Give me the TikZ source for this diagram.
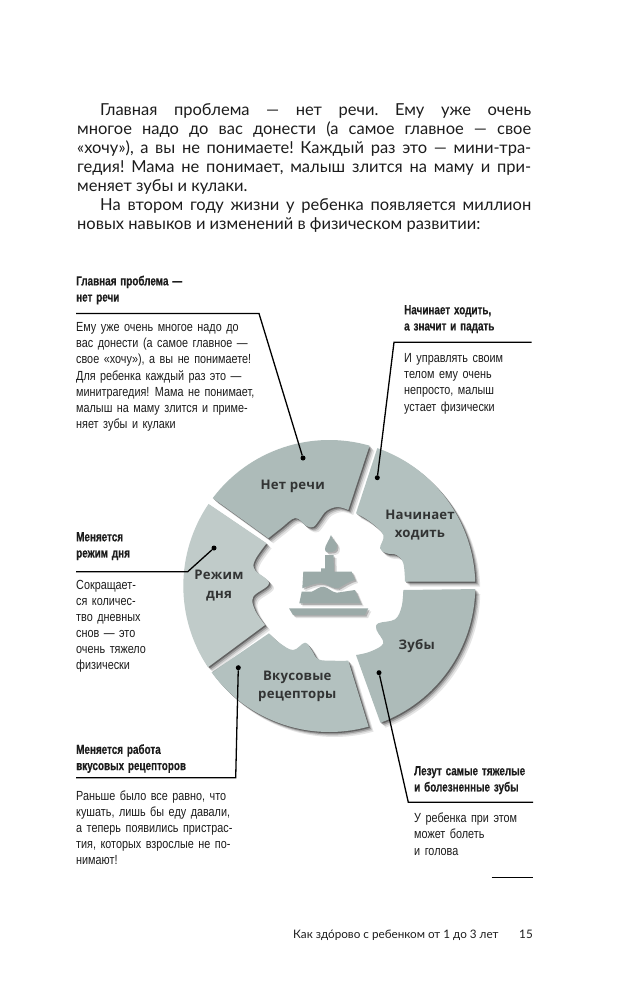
\documentclass[tikz,border=0pt]{standalone}
\usepackage{fontspec}
\setmainfont{Lato}
\newfontfamily\capheadfont[FakeStretch=0.75,WordSpace=1.4,FakeBold=0.25]{Liberation Sans}
\newfontfamily\capfont[FakeStretch=0.82,WordSpace=1.5]{Liberation Sans}
\newfontfamily\segfont[LetterSpace=1.5]{Open Sans}
\definecolor{segdark}{HTML}{ADBBB9}
\definecolor{segmid}{HTML}{B3C1BF}
\definecolor{seglight}{HTML}{C0CBC9}
\definecolor{cakecol}{HTML}{9BAAA8}
\definecolor{inktext}{HTML}{1C1C1C}
\tikzset{
  capt/.style={anchor=north west,inner sep=0pt,align=left,text=inktext,execute at begin node=\strut},
  capthead/.style={capt,font=\capheadfont\bfseries\fontsize{13.2}{16.2}\selectfont},
  captbody/.style={capt,font=\capfont\fontsize{13.2}{16.1}\selectfont},
  seglabel/.style={inner sep=0pt,align=center,text=inktext!85!segdark,font=\segfont\bfseries\fontsize{13.2}{18.3}\selectfont},
  leader/.style={draw=black,line width=1.3pt},
  leaddot/.style={circle,fill=black,inner sep=0pt,minimum size=5pt},
  softshadow/.style={
    preaction={fill=black,opacity=.10,transform canvas={xshift=5pt,yshift=-5pt}},
    preaction={fill=black,opacity=.14,transform canvas={xshift=3.6pt,yshift=-3.6pt}},
    preaction={fill=black,opacity=.22,transform canvas={xshift=2.4pt,yshift=-2.4pt}},
    preaction={fill=black,opacity=.35,transform canvas={xshift=1.2pt,yshift=-1.2pt}}},
  cakeshadow/.style={
    preaction={fill=black,opacity=.12,transform canvas={xshift=3pt,yshift=-3pt}},
    preaction={fill=black,opacity=.22,transform canvas={xshift=1.5pt,yshift=-1.5pt}}},
}
\begin{document}
\begin{tikzpicture}[x=1pt,y=-1pt]
  \useasboundingbox (0,0) rectangle (644,1000);
  \fill[white] (0,0) rectangle (644,1000);

  \node[anchor=north west,inner sep=0pt,text width=454pt,align=justify,text=inktext,
    font=\fontsize{16.5}{19}\selectfont\frenchspacing] (intro) at (77,102) {\strut\hspace*{23pt}Главная проблема — нет речи. Ему уже очень\linebreak
    многое надо до вас донести (а самое главное — свое\linebreak
    «хочу»), а вы не понимаете! Каждый раз это — мини-тра-\linebreak
    гедия! Мама не понимает, малыш злится на маму и при-\linebreak
    меняет зубы и кулаки.\\
    \hspace*{23pt}На втором году жизни у ребенка появляется миллион\linebreak
    новых навыков и изменений в физическом развитии:};

  \begin{scope}[shift={(329.3,586)}]
    \path[softshadow,fill=segdark] (217:146) arc[start angle=217,end angle=286,radius=146]
      -- plot[smooth,tension=.6] coordinates {(19,-76) (8,-79) (-3,-75) (-10,-66) (-16,-59) (-23,-60) (-34,-68) (-48,-58) (-61,-47.7)} -- cycle;
    \path[softshadow,fill=segmid] (289.2:146) arc[start angle=289.2,end angle=358.3,radius=146]
      -- plot[smooth,tension=.6] coordinates {(75.7,-4.3) (74,-22.7) (67.3,-31) (57.3,-32.7) (50.7,-37.7) (54,-51) (40.7,-64.3) (26.7,-72.7)} -- cycle;
    \path[softshadow,fill=segdark] (1.2:146) arc[start angle=1.2,end angle=69.5,radius=146]
      -- plot[smooth,tension=.6] coordinates {(26.7,69) (40.7,65.7) (54,57.3) (47.3,44) (49,37.3) (65.7,33.3) (72.3,20.7) (74,4)} -- cycle;
    \path[softshadow,fill=segmid] (143.7:146) arc[start angle=143.7,end angle=74.4,radius=146]
      -- plot[smooth,tension=.6] coordinates {(19,74.7) (4,74.7) (-11,73.3) (-17.7,64) (-24.3,56.7) (-36,64) (-49.3,57.3) (-60.3,47.3)} -- cycle;
    \path[softshadow,fill=seglight] (214.2:146) arc[start angle=214.2,end angle=146.2,radius=146]
      -- plot[smooth,tension=.6] coordinates {(-64.3,39) (-74.3,24) (-76,10.7) (-60.3,-2.7) (-74.3,-16) (-74.3,-26) (-62.7,-42.7)} -- cycle;
  \end{scope}

  \path[cakeshadow,fill=cakecol] (331,535) .. controls (329,541) and (325,545) .. (325,549)
    .. controls (325,553) and (328,552) .. (330,552) .. controls (334,552) and (337,551) .. (337,546)
    .. controls (337,542) and (332,540) .. (331,535) -- cycle;
  \path[cakeshadow,fill=cakecol] (325,555) -- (333.5,555) -- (334,571.7) -- (351.7,571.7) -- (355,580)
    .. controls (350,581) and (344,585) .. (338.3,588.3) .. controls (333,589) and (328,584) .. (321.7,583.3)
    .. controls (315,583) and (308,586) .. (302.3,588.3) -- (303.3,571.7) -- (321,571.7) -- (321,568.3) -- (325,568.3) -- cycle;
  \path[cakeshadow,fill=cakecol] (301.7,591.7) -- (311.7,591.7) .. controls (316,590) and (319,586.7) .. (323.3,586.7)
    .. controls (328,587) and (331,592) .. (336.7,592.7) -- (355,590) -- (360.7,603.3) -- (299.3,603.3) -- cycle;
  \path[cakeshadow,fill=cakecol] (289,608.3) -- (368.3,608.3) -- (365,615) -- (293,615) -- cycle;

  \node[seglabel] (lblRech) at (292.7,486.7) {Нет речи};
  \node[seglabel] (lblWalk) at (420,525) {Начинает\\ходить};
  \node[seglabel] (lblTeeth) at (416.7,646) {Зубы};
  \node[seglabel] (lblTaste) at (297.3,686.7) {Вкусовые\\рецепторы};
  \node[seglabel] (lblMode) at (219,585.7) {Режим\\дня};

  \node[capthead] (headRech) at (76,275.5) {Главная проблема —\\нет речи};
  \node[captbody] (bodyRech) at (76,322.5) {Ему уже очень многое надо до\\вас донести (а самое главное —\\свое «хочу»), а вы не понимаете!\\Для ребенка каждый раз это —\\минитрагедия! Мама не понимает,\\малыш на маму злится и приме-\\няет зубы и кулаки};
  \node[capthead] (headWalk) at (404,305) {Начинает ходить,\\а значит и падать};
  \node[captbody] (bodyWalk) at (404,353.5) {И управлять своим\\телом ему очень\\непросто, малыш\\устает физически};
  \node[capthead] (headMode) at (76,532) {Меняется\\режим дня};
  \node[captbody] (bodyMode) at (76,580) {Сокращает-\\ся количес-\\тво дневных\\снов — это\\очень тяжело\\физически};
  \node[capthead] (headTaste) at (76,744) {Меняется работа\\вкусовых рецепторов};
  \node[captbody] (bodyTaste) at (76,790.5) {Раньше было все равно, что\\кушать, лишь бы еду давали,\\а теперь появились пристрас-\\тия, которых взрослые не по-\\нимают!};
  \node[capthead] (headTeeth) at (414,766) {Лезут самые тяжелые\\и болезненные зубы};
  \node[captbody] (bodyTeeth) at (414,813) {У ребенка при этом\\может болеть\\и голова};

  \node[leaddot] (dotRech) at (303,458) {};
  \node[leaddot] (dotWalk) at (377.3,477.7) {};
  \node[leaddot] (dotMode) at (214,548) {};
  \node[leaddot] (dotTaste) at (238.3,667.7) {};
  \node[leaddot] (dotTeeth) at (379,672.7) {};

  \coordinate (startRech) at (76,313.5);
  \coordinate (elbowRech) at (259,313.5);
  \coordinate (startWalk) at (531.7,342.3);
  \coordinate (elbowWalk) at (394,342.3);
  \coordinate (startMode) at (76,571.7);
  \coordinate (elbowMode) at (187.7,571.7);
  \coordinate (startTaste) at (76,777.7);
  \coordinate (elbowTaste) at (235.7,777.7);
  \coordinate (startTeeth) at (533,802.3);
  \coordinate (elbowTeeth) at (408.3,802.3);

  \draw[leader] (startRech) -- (elbowRech) -- (dotRech);
  \draw[leader] (startWalk) -- (elbowWalk) -- (dotWalk);
  \draw[leader] (startMode) -- (elbowMode) -- (dotMode);
  \draw[leader] (startTaste) -- (elbowTaste) -- (dotTaste);
  \draw[leader] (startTeeth) -- (elbowTeeth) -- (dotTeeth);

  \coordinate (noteLeft) at (491.7,877.7);
  \coordinate (noteRight) at (532.7,877.7);
  \draw[line width=.8pt] (noteLeft) -- (noteRight);

  \node[anchor=base west,inner sep=0pt,text=inktext,font=\fontsize{11.7}{14}\selectfont] (footTitle) at (293,938) {Как здо́рово с ребенком от 1 до 3 лет};
  \node[anchor=base east,inner sep=0pt,text=inktext,font=\fontsize{11.7}{14}\selectfont] (footPage) at (533,938) {15};
\end{tikzpicture}
\end{document}
